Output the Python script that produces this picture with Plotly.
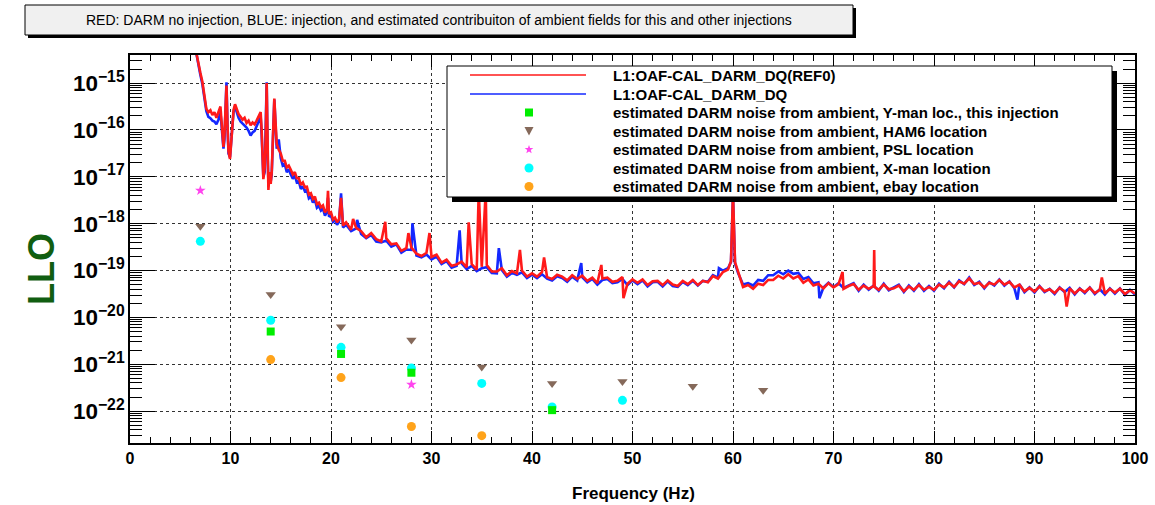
import math
import numpy as np
import plotly.graph_objects as go

# ---------------- data ----------------
# low-frequency part of the spectra, log10 of ASD
low_f = [6.5, 6.8, 7.0, 7.2, 7.4, 7.6, 7.8, 8.0, 8.2, 8.4, 8.6, 8.8, 9.0, 9.1, 9.2, 9.3, 9.4, 9.5, 9.6, 9.7,
         9.8, 9.95, 10.1, 10.3, 10.45, 10.6, 10.8, 11.0, 11.2, 11.4, 11.6, 11.8, 12.0, 12.2, 12.4, 12.6, 12.8,
         13.0, 13.1, 13.2, 13.27, 13.4, 13.5, 13.6, 13.7, 13.77, 13.9, 14.0, 14.1, 14.2, 14.3, 14.36, 14.45,
         14.6, 14.8, 15.0, 15.2, 15.4, 15.6, 15.8, 16.0, 16.2, 16.4, 16.6, 16.8, 17.0, 17.2, 17.4, 17.6, 17.8,
         18.0, 18.2, 18.4, 18.6, 18.8, 19.0, 19.2, 19.4, 19.6, 19.7, 19.8, 20.0, 20.2, 20.4, 20.6, 20.8, 21.0, 21.2]
red_low = [-14.25, -14.60, -14.78, -14.97, -15.28, -15.55, -15.62, -15.58, -15.68, -15.62, -15.74, -15.60,
           -15.50, -15.80, -16.20, -16.36, -16.10, -15.70, -15.05, -15.90, -16.45, -16.62, -16.10, -15.58,
           -15.45, -15.55, -15.66, -15.72, -15.78, -15.74, -15.85, -15.80, -15.90, -15.84, -15.88, -15.80,
           -15.72, -15.62, -16.00, -16.70, -17.05, -16.80, -16.20, -15.00, -16.50, -17.28, -16.90, -17.15,
           -16.90, -16.30, -15.60, -15.33, -15.70, -16.30, -16.42, -16.50, -16.66, -16.66, -16.80, -16.76,
           -16.85, -16.95, -16.90, -17.03, -17.03, -17.17, -17.12, -17.22, -17.21, -17.38, -17.35, -17.47,
           -17.42, -17.58, -17.55, -17.65, -17.61, -17.76, -17.69, -17.30, -17.79, -17.76, -17.91, -17.87,
           -17.97, -17.91, -17.45, -18.04]
blue_low = [-14.25, -14.62, -14.82, -15.02, -15.32, -15.60, -15.72, -15.75, -15.80, -15.82, -15.88, -15.78,
            -15.62, -15.86, -16.26, -16.40, -16.20, -15.62, -14.98, -15.88, -16.50, -16.58, -16.20, -15.62,
            -15.50, -15.62, -15.74, -15.82, -15.86, -15.92, -15.95, -16.02, -16.12, -16.05, -16.02, -15.92,
            -15.82, -15.72, -16.10, -16.80, -17.00, -16.90, -16.10, -14.98, -16.60, -17.12, -17.00, -17.10,
            -16.95, -16.40, -15.60, -15.35, -15.75, -16.40, -16.20, -16.60, -16.76, -16.73, -16.90, -16.84,
            -16.95, -17.04, -16.97, -17.12, -17.10, -17.26, -17.20, -17.31, -17.28, -17.46, -17.42, -17.55,
            -17.49, -17.66, -17.62, -17.72, -17.68, -17.83, -17.75, -17.45, -17.85, -17.82, -17.96, -17.92,
            -18.02, -17.96, -17.35, -18.08]

grid_f = [21.5, 22.0, 22.5, 23.0, 23.5, 24.0, 24.5, 25.0, 25.5, 26.0, 26.5, 27.0, 27.5, 28.0, 28.5, 29.0,
          29.5, 30.0, 30.5, 31.0, 31.5, 32.0, 32.5, 33.0, 33.5, 34.0, 34.5, 35.0, 35.5, 36.0, 36.5, 37.0,
          37.5, 38.0, 38.5, 39.0, 39.5, 40.0, 40.5, 41.0, 41.5, 42.0, 42.5, 43.0, 43.5, 44.0, 44.5, 45.0,
          45.5, 46.0, 46.5, 47.0, 47.5, 48.0, 48.5, 49.0, 49.5, 50.0, 50.5, 51.0, 51.5, 52.0, 52.5, 53.0,
          53.5, 54.0, 54.5, 55.0, 55.5, 56.0, 56.5, 57.0, 57.5, 58.0, 58.5, 59.0, 59.5, 60.0, 60.5, 61.0,
          61.5, 62.0, 62.5, 63.0, 63.5, 64.0, 64.5, 65.0, 65.5, 66.0, 66.5, 67.0, 67.5, 68.0, 68.5, 69.0,
          69.5, 70.0, 70.5, 71.0, 71.5, 72.0, 72.5, 73.0, 73.5, 74.0, 74.5, 75.0, 75.5, 76.0, 76.5, 77.0,
          77.5, 78.0, 78.5, 79.0, 79.5, 80.0, 80.5, 81.0, 81.5, 82.0, 82.5, 83.0, 83.5, 84.0, 84.5, 85.0,
          85.5, 86.0, 86.5, 87.0, 87.5, 88.0, 88.5, 89.0, 89.5, 90.0, 90.5, 91.0, 91.5, 92.0, 92.5, 93.0,
          93.5, 94.0, 94.5, 95.0, 95.5, 96.0, 96.5, 97.0, 97.5, 98.0, 98.5, 99.0, 99.5, 100.0]
red_grid = [-17.97, -18.13, -18.09, -18.16, -18.29, -18.20, -18.33, -18.38, -18.31, -18.44, -18.42, -18.58,
            -18.52, -18.51, -18.64, -18.69, -18.62, -18.71, -18.66, -18.83, -18.77, -18.90, -18.87, -18.81,
            -18.93, -18.86, -18.98, -18.92, -18.88, -19.02, -19.02, -18.95, -19.10, -19.01, -19.06, -19.00,
            -19.13, -19.06, -19.13, -19.03, -19.14, -19.18, -19.09, -19.13, -19.21, -19.10, -19.18, -19.11,
            -19.22, -19.15, -19.27, -19.17, -19.15, -19.24, -19.22, -19.14, -19.28, -19.19, -19.26, -19.19,
            -19.31, -19.23, -19.22, -19.31, -19.21, -19.30, -19.33, -19.22, -19.29, -19.20, -19.31, -19.22,
            -19.25, -19.12, -19.17, -19.03, -18.98, -17.35, -19.02, -19.35, -19.31, -19.39, -19.28, -19.31,
            -19.20, -19.20, -19.11, -19.17, -19.08, -19.17, -19.12, -19.26, -19.19, -19.32, -19.28, -19.38,
            -19.27, -19.36, -19.29, -19.39, -19.33, -19.29, -19.41, -19.32, -19.39, -19.33, -19.41, -19.30,
            -19.40, -19.38, -19.32, -19.44, -19.34, -19.41, -19.31, -19.41, -19.35, -19.41, -19.30, -19.36,
            -19.26, -19.35, -19.23, -19.28, -19.17, -19.29, -19.26, -19.36, -19.26, -19.30, -19.20, -19.30,
            -19.24, -19.36, -19.30, -19.44, -19.37, -19.45, -19.34, -19.44, -19.40, -19.48, -19.37, -19.44,
            -19.38, -19.49, -19.39, -19.46, -19.37, -19.48, -19.41, -19.49, -19.39, -19.47, -19.39, -19.50,
            -19.42, -19.49]
blue_grid = [-18.02, -18.16, -18.10, -18.22, -18.31, -18.24, -18.38, -18.40, -18.36, -18.49, -18.44, -18.62,
             -18.55, -18.56, -18.68, -18.72, -18.66, -18.76, -18.70, -18.86, -18.80, -18.94, -18.90, -18.85,
             -18.97, -18.90, -19.01, -18.95, -18.93, -19.05, -19.06, -18.99, -19.13, -19.05, -19.09, -19.04,
             -19.16, -19.09, -19.16, -19.08, -19.17, -19.21, -19.12, -19.16, -19.24, -19.13, -19.21, -19.14,
             -19.25, -19.18, -19.30, -19.20, -19.18, -19.27, -19.25, -19.18, -19.31, -19.21, -19.29, -19.21,
             -19.34, -19.25, -19.24, -19.34, -19.23, -19.33, -19.35, -19.24, -19.31, -19.22, -19.32, -19.22,
             -19.24, -19.10, -19.15, -19.00, -18.95, -17.40, -19.05, -19.30, -19.27, -19.32, -19.20, -19.22,
             -19.10, -19.10, -19.02, -19.08, -19.00, -19.07, -19.05, -19.18, -19.14, -19.27, -19.25, -19.36,
             -19.26, -19.35, -19.27, -19.37, -19.32, -19.27, -19.43, -19.30, -19.41, -19.32, -19.43, -19.28,
             -19.42, -19.36, -19.30, -19.46, -19.32, -19.43, -19.29, -19.43, -19.33, -19.43, -19.28, -19.38,
             -19.24, -19.36, -19.21, -19.29, -19.15, -19.31, -19.24, -19.38, -19.25, -19.32, -19.19, -19.32,
             -19.23, -19.38, -19.29, -19.46, -19.36, -19.47, -19.33, -19.46, -19.39, -19.50, -19.36, -19.46,
             -19.37, -19.51, -19.38, -19.48, -19.36, -19.50, -19.40, -19.51, -19.38, -19.49, -19.38, -19.52,
             -19.41, -19.51]

# narrow lines / dips seen in each trace
red_extra_f = [22.2, 25.4, 27.7, 29.8, 33.7, 34.7, 35.4, 38.8, 41.2, 46.9, 49.1, 59.8, 60.2, 70.9, 74.05,
               74.1, 93.2, 96.7]
red_extra = [-17.90, -17.96, -18.20, -18.20, -17.97, -17.30, -17.30, -18.56, -18.72, -18.88, -19.59, -18.80,
             -18.82, -19.03, -18.56, -19.35, -19.77, -19.15]
blue_extra_f = [22.6, 28.1, 32.8, 36.7, 44.9, 58.6, 59.8, 60.2, 68.6, 88.3]
blue_extra = [-17.92, -17.99, -18.14, -18.52, -18.84, -18.95, -18.82, -18.85, -19.59, -19.62]

# estimated DARM noise from ambient fields
yman_f = [14, 21, 28, 42]
yman = [5.0e-21, 1.66e-21, 6.6e-22, 1.05e-22]
ham6_f = [7, 14, 21, 28, 35, 42, 49, 56, 63]
ham6 = [8.8e-19, 3.1e-20, 6.3e-21, 3.3e-21, 8.7e-22, 3.9e-22, 4.3e-22, 3.4e-22, 2.8e-22]
psl_f = [7, 28]
psl = [5.1e-18, 3.7e-22]
xman_f = [7, 14, 21, 28, 35, 42, 49]
xman = [4.2e-19, 8.7e-21, 2.3e-21, 8.3e-22, 3.9e-22, 1.23e-22, 1.7e-22]
ebay_f = [14, 21, 28, 35]
ebay = [1.26e-21, 5.2e-22, 4.7e-23, 3.0e-23]

legend_labels = [
    "L1:OAF-CAL_DARM_DQ(REF0)",
    "L1:OAF-CAL_DARM_DQ",
    "estimated DARM noise from ambient, Y-man loc., this injection",
    "estimated DARM noise from ambient, HAM6 location",
    "estimated DARM noise from ambient, PSL location",
    "estimated DARM noise from ambient, X-man location",
    "estimated DARM noise from ambient, ebay location",
]
title_text = ("RED: DARM no injection, BLUE: injection, and estimated contribuiton of ambient fields "
              "for this and other injections")

RED, BLUE = "#ff1a1a", "#1428ff"
GREEN, BROWN, MAGENTA, CYAN, ORANGE = "#00ee00", "#85695a", "#ff44ee", "#00ffff", "#ffa31a"


def merged(f_lists, v_lists):
    pairs = sorted(zip(sum(f_lists, []), sum(v_lists, [])))
    f = np.array([p[0] for p in pairs])
    v = 10.0 ** np.array([p[1] for p in pairs])
    return f, v


red_f, red_v = merged([low_f, grid_f, red_extra_f], [red_low, red_grid, red_extra])
blue_f, blue_v = merged([low_f, grid_f, blue_extra_f], [blue_low, blue_grid, blue_extra])

# ---------------- figure ----------------
L, R, T, B = 130, 20, 55, 62
W, H = 1155, 505
PW, PH = W - L - R, H - T - B


def px(x):
    return (x - L) / PW


def py(y):
    return (H - B - y) / PH


fig = go.Figure()
fig.add_trace(go.Scatter(x=blue_f, y=blue_v, mode="lines", name=legend_labels[1],
                         line=dict(color=BLUE, width=2.6)))
fig.add_trace(go.Scatter(x=red_f, y=red_v, mode="lines", name=legend_labels[0],
                         line=dict(color=RED, width=2.6)))
fig.add_trace(go.Scatter(x=xman_f, y=xman, mode="markers", name=legend_labels[5],
                         marker=dict(symbol="circle", size=9, color=CYAN)))
fig.add_trace(go.Scatter(x=ham6_f, y=ham6, mode="markers", name=legend_labels[3],
                         marker=dict(symbol="triangle-down", size=9, color=BROWN)))
fig.add_trace(go.Scatter(x=psl_f, y=psl, mode="markers", name=legend_labels[4],
                         marker=dict(symbol="star", size=8, color=MAGENTA)))
fig.add_trace(go.Scatter(x=ebay_f, y=ebay, mode="markers", name=legend_labels[6],
                         marker=dict(symbol="circle", size=9, color=ORANGE)))
fig.add_trace(go.Scatter(x=yman_f, y=yman, mode="markers", name=legend_labels[2],
                         marker=dict(symbol="square", size=8, color=GREEN)))

FONT = "Liberation Sans, Arial, Helvetica, sans-serif"
bold = dict(family=FONT, color="black", weight="bold")

fig.update_xaxes(range=[0, 100], dtick=10, tick0=0, ticks="inside", ticklen=12, tickwidth=1,
                 tickcolor="black", minor=dict(dtick=2, ticks="inside", ticklen=6, tickcolor="black",
                                               showgrid=False),
                 showgrid=True, gridcolor="#333333", griddash="dot", gridwidth=1,
                 showline=True, linecolor="black", linewidth=1.5, mirror="ticks", zeroline=False,
                 tickfont=dict(size=16, **bold), automargin=False)
fig.update_yaxes(type="log", range=[-22.68, -14.40], dtick=1, exponentformat="power",
                 ticks="inside", ticklen=25, tickwidth=1, tickcolor="black",
                 minor=dict(ticks="inside", ticklen=12, tickcolor="black", showgrid=False),
                 showgrid=True, gridcolor="#333333", griddash="dot", gridwidth=1,
                 showline=True, linecolor="black", linewidth=1.5, mirror="ticks", zeroline=False,
                 tickfont=dict(size=18, **bold), automargin=False)

shapes = [
    # title box shadow + box
    dict(type="rect", xref="paper", yref="paper", x0=px(28), x1=px(856), y0=py(38), y1=py(8),
         fillcolor="black", line=dict(width=0), layer="above"),
    dict(type="rect", xref="paper", yref="paper", x0=px(25), x1=px(853), y0=py(35), y1=py(5),
         fillcolor="#f0f0f0", line=dict(color="black", width=1), layer="above"),
    # legend shadow + box
    dict(type="rect", xref="paper", yref="paper", x0=px(452), x1=px(1117), y0=py(202), y1=py(71),
         fillcolor="black", line=dict(width=0), layer="above"),
    dict(type="rect", xref="paper", yref="paper", x0=px(447), x1=px(1112), y0=py(197), y1=py(66),
         fillcolor="white", line=dict(color="black", width=1), layer="above"),
]

annotations = [
    dict(text=title_text, xref="paper", yref="paper", x=px(439), y=py(20), xanchor="center",
         yanchor="middle", showarrow=False, font=dict(size=14, family=FONT, color="black")),
    dict(text="<b>LLO</b>", xref="paper", yref="paper", x=px(41), y=py(269), xanchor="center",
         yanchor="middle", showarrow=False, textangle=-90,
         font=dict(size=36, family=FONT, color="#115e11")),
    dict(text="Frequency (Hz)", xref="paper", yref="paper", x=px(633), y=py(493), xanchor="center",
         yanchor="middle", showarrow=False, font=dict(size=17, **bold)),
]

# hand-drawn legend (ROOT style)
row_y = [75, 94, 112.5, 131, 149.5, 168, 186.5]
for label, yy in zip(legend_labels, row_y):
    annotations.append(dict(text=label, xref="paper", yref="paper", x=px(611), y=py(yy),
                            xanchor="left", yanchor="middle", showarrow=False,
                            font=dict(size=15, **bold)))
for color, yy in [(RED, row_y[0]), (BLUE, row_y[1])]:
    shapes.append(dict(type="line", xref="paper", yref="paper", x0=px(470), x1=px(586),
                       y0=py(yy), y1=py(yy), line=dict(color=color, width=1.5), layer="above"))
mx = 529
# square
yy = row_y[2]
shapes.append(dict(type="rect", xref="paper", yref="paper", x0=px(mx - 4), x1=px(mx + 4),
                   y0=py(yy + 4), y1=py(yy - 4), fillcolor=GREEN, line=dict(width=0), layer="above"))
# triangle down
yy = row_y[3]
shapes.append(dict(type="path", xref="paper", yref="paper",
                   path="M{},{} L{},{} L{},{} Z".format(px(mx - 4.5), py(yy - 4), px(mx + 4.5), py(yy - 4),
                                                       px(mx), py(yy + 4.5)),
                   fillcolor=BROWN, line=dict(width=0), layer="above"))
# star
yy = row_y[4]
pts = []
for k in range(10):
    r = 4.5 if k % 2 == 0 else 1.9
    a = -math.pi / 2 + k * math.pi / 5
    pts.append((px(mx + r * math.cos(a)), py(yy + r * math.sin(a))))
shapes.append(dict(type="path", xref="paper", yref="paper",
                   path="M" + " L".join("{},{}".format(a, b) for a, b in pts) + " Z",
                   fillcolor=MAGENTA, line=dict(width=0), layer="above"))
# circles
for color, yy in [(CYAN, row_y[5]), (ORANGE, row_y[6])]:
    shapes.append(dict(type="circle", xref="paper", yref="paper", x0=px(mx - 4.5), x1=px(mx + 4.5),
                       y0=py(yy + 4.5), y1=py(yy - 4.5), fillcolor=color, line=dict(width=0),
                       layer="above"))

fig.update_layout(
    width=W, height=H, margin=dict(l=L, r=R, t=T, b=B),
    paper_bgcolor="white", plot_bgcolor="white",
    shapes=shapes, annotations=annotations, showlegend=False,
)

fig.write_html("out.html")
